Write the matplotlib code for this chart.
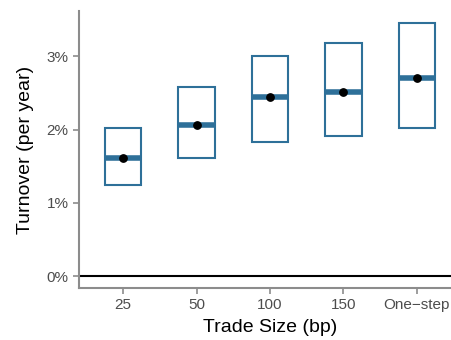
import matplotlib
matplotlib.use("Agg")
import matplotlib.pyplot as plt
from matplotlib.patches import Rectangle

plt.rcParams["font.family"] = ["Liberation Sans", "DejaVu Sans"]

categories = ["25", "50", "100", "150", "One\u2212step"]
upper = [2.03, 2.58, 3.01, 3.18, 3.45]
lower = [1.24, 1.61, 1.83, 1.92, 2.02]
middle = [1.61, 2.07, 2.44, 2.52, 2.70]
points = [1.61, 2.07, 2.44, 2.52, 2.70]
yticks = [0, 1, 2, 3]
ytick_labels = ["0%", "1%", "2%", "3%"]

color = "#2E7099"
fig = plt.figure(figsize=(4.52, 3.4), dpi=100)
ax = fig.add_axes([79/452, (340-288)/340, (461-79)/452, (288-11)/340])

xs = list(range(1, len(categories) + 1))
w = 0.5
for x, lo, hi, md in zip(xs, lower, upper, middle):
    ax.add_patch(Rectangle((x - w/2, lo), w, hi - lo, fill=False, edgecolor=color, lw=1.5, zorder=2))
    ax.plot([x - w/2, x + w/2], [md, md], color=color, lw=4, solid_capstyle="butt", zorder=3)
ax.scatter(xs, points, color="black", s=28, zorder=4)
ax.axhline(0, color="black", lw=1.5, zorder=1)

ax.set_xlim(0.4, 5.6)
ax.set_ylim(-0.16, 3.62)
ax.set_xticks(xs)
ax.set_xticklabels(categories)
ax.set_yticks(yticks)
ax.set_yticklabels(ytick_labels)
for s in ["top", "right"]:
    ax.spines[s].set_visible(False)
for s in ["left", "bottom"]:
    ax.spines[s].set_color("#8c8c8c")
    ax.spines[s].set_linewidth(1.5)
ax.tick_params(axis="both", colors="#8c8c8c", width=1.2, length=4, labelsize=11, labelcolor="#4d4d4d")
ax.set_xlabel("Trade Size (bp)", fontsize=14, color="black", labelpad=5)
ax.set_ylabel("Turnover (per year)", fontsize=14, color="black", labelpad=9)

fig.savefig("out.png", dpi=100)
